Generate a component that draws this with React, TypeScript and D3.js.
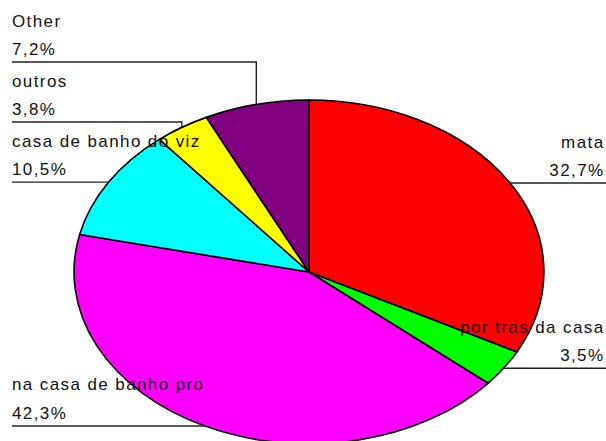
import React from "react";
import * as d3 from "d3";

const categories = ["mata", "por tras da casa", "na casa de banho pro", "casa de banho do viz", "outros", "Other"];
const values = [32.7, 3.5, 42.3, 10.5, 3.8, 7.2];
const percentLabels = ["32,7%", "3,5%", "42,3%", "10,5%", "3,8%", "7,2%"];
const colors = ["#FF0000", "#00FF00", "#FF00FF", "#00FFFF", "#FFFF00", "#800080"];

// layout: label side and (optional) underline y for elbowed leaders
const labelSide = ["right", "right", "left", "left", "left", "left"];
const labelLineY: (number | null)[] = [null, null, null, null, 122, 62];

const W = 606;
const H = 441;
const cx = 309;
const cy = 272;
const rx = 235;
const ry = 172;
const FONT = "'Liberation Sans', Arial, sans-serif";

export default function App() {
  const data = categories.map((c, i) => ({ c, v: values[i], i }));
  const pie = d3.pie<any>().sort(null).value((d) => d.v).startAngle(0).endAngle(2 * Math.PI);
  const arcs = pie(data);
  const arc = d3.arc<any>().innerRadius(0).outerRadius(1);

  return (
    <svg width={W} height={H} style={{ position: "absolute", left: 0, top: 0, background: "#fff" }}>
      <g transform={`translate(${cx},${cy}) scale(${rx},${ry})`}>
        {arcs.map((a, i) => (
          <path
            key={i}
            d={arc(a) as string}
            fill={colors[i]}
            stroke="#000"
            strokeWidth={1.6}
            vectorEffect="non-scaling-stroke"
            strokeLinejoin="round"
          />
        ))}
      </g>
      {arcs.map((a, i) => {
        const mid = (a.startAngle + a.endAngle) / 2;
        const px = cx + rx * Math.sin(mid);
        const py = cy - ry * Math.cos(mid);
        const ly = labelLineY[i] ?? py;
        const right = labelSide[i] === "right";
        const tx = right ? 604.5 : 12;
        const pts = right
          ? [[px, py], [px, ly], [W, ly]]
          : [[12, ly], [px, ly], [px, py]];
        return (
          <g key={i}>
            <polyline
              points={pts.map((p) => p.join(",")).join(" ")}
              fill="none"
              stroke="#222"
              strokeWidth={1.4}
            />
            <text
              x={tx}
              y={ly - 35.5}
              textAnchor={right ? "end" : "start"}
              fontFamily={FONT}
              fontSize={17}
              letterSpacing={1.4}
              fill="#111"
            >
              {categories[i]}
            </text>
            <text
              x={tx}
              y={ly - 7}
              textAnchor={right ? "end" : "start"}
              fontFamily={FONT}
              fontSize={17}
              letterSpacing={1.4}
              fill="#111"
            >
              {percentLabels[i]}
            </text>
          </g>
        );
      })}
    </svg>
  );
}
